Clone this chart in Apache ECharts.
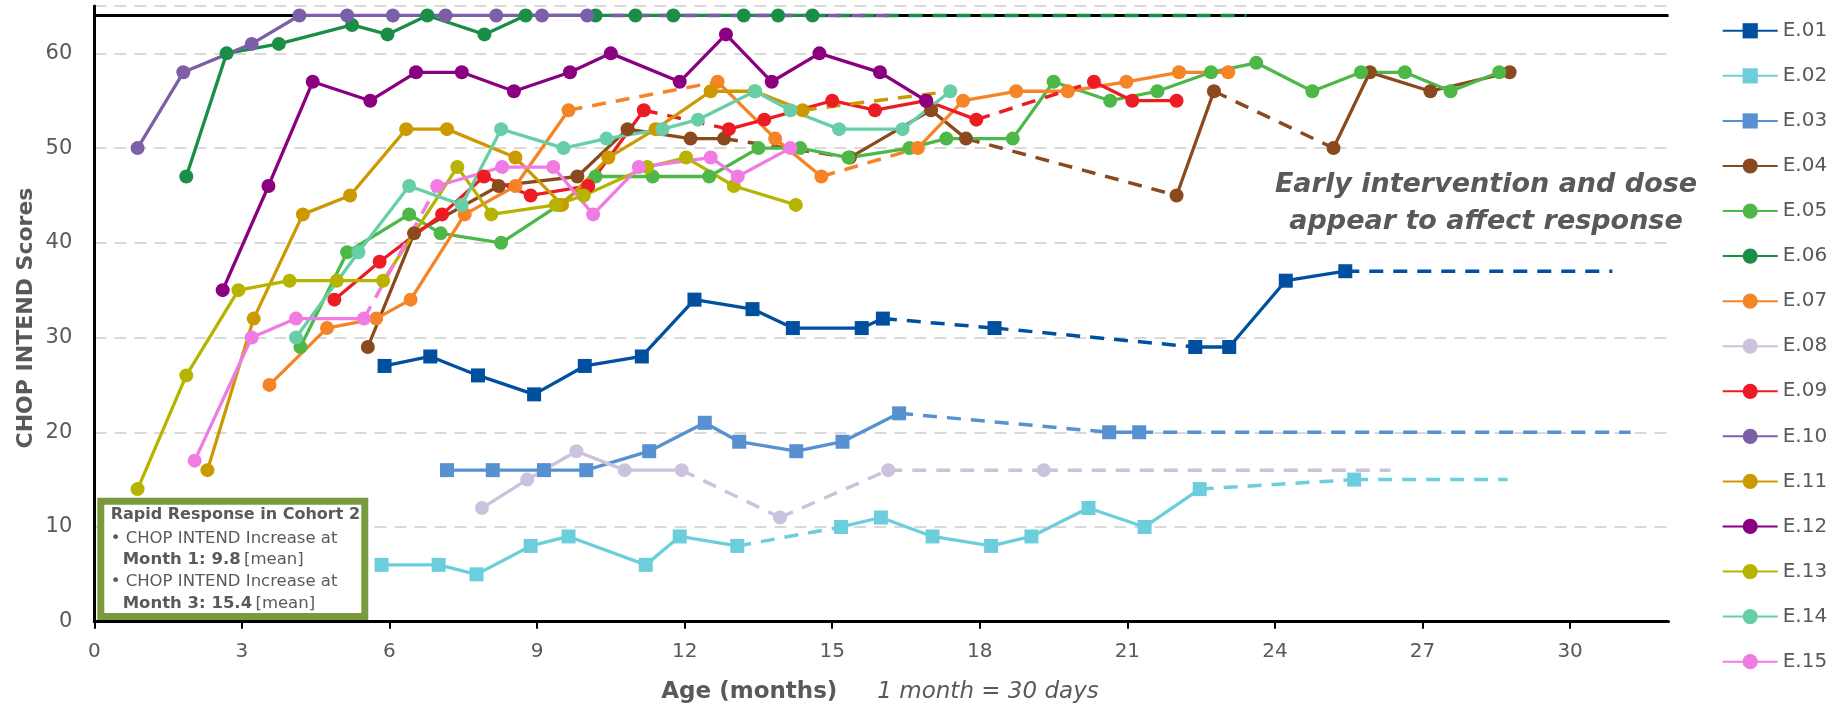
<!DOCTYPE html>
<html>
<head>
<meta charset="utf-8">
<title>CHOP INTEND Scores by Age</title>
<script src="https://cdn.jsdelivr.net/npm/echarts@6/dist/echarts.min.js"></script>
<style>
  html, body { margin: 0; padding: 0; background: #fff; }
  #chart { width: 1845px; height: 707px; }
</style>
</head>
<body>
<div id="chart"></div>
<script>
// each patient: runs of visits [age (months), score] joined by a solid line,
// consecutive runs are bridged by a dashed line, tail = dashed carry-forward end
const e01 = [
  [[5.9, 27], [6.83, 28], [7.8, 26], [8.94, 24], [9.97, 27], [11.13, 28], [12.2, 34], [13.38, 33], [14.2, 31], [15.6, 31], [16.03, 32]],
  [[18.3, 31]],
  [[22.38, 29], [23.07, 29], [24.22, 36], [25.43, 37]],
]
const e01Tail = [30.86, 37]
const e02 = [
  [[5.84, 6], [7.0, 6], [7.77, 5], [8.87, 8], [9.64, 9], [11.21, 6], [11.9, 9], [13.07, 8]],
  [[15.18, 10], [15.99, 11], [17.04, 9], [18.23, 8], [19.05, 9], [20.21, 12], [21.35, 10], [22.47, 14]],
  [[25.61, 15]],
]
const e02Tail = [28.73, 15]
const e03 = [
  [[7.17, 16], [8.1, 16], [9.14, 16], [10.0, 16], [11.28, 18], [12.41, 21], [13.11, 19], [14.27, 18], [15.21, 19], [16.36, 22]],
  [[20.63, 20], [21.24, 20]],
]
const e03Tail = [31.23, 20]
const e04 = [
  [[5.56, 29], [6.5, 41], [8.22, 46], [9.82, 47], [10.84, 52], [12.12, 51], [12.8, 51]],
  [[15.36, 49], [17.01, 54], [17.72, 51]],
  [[22.0, 45], [22.76, 56]],
  [[25.19, 50], [25.93, 58], [27.16, 56], [28.77, 58]],
]
const e05 = [
  [[4.19, 29], [5.14, 39], [6.4, 43], [7.04, 41], [8.27, 40], [9.45, 44], [10.19, 47], [11.35, 47], [12.5, 47], [13.5, 50], [14.35, 50], [15.33, 49], [16.57, 50], [17.32, 51], [18.67, 51], [19.5, 57], [20.65, 55], [21.61, 56], [22.7, 58], [23.62, 59], [24.76, 56], [25.75, 58], [26.64, 58], [27.57, 56], [28.56, 58]],
]
const e06 = [
  [[1.87, 47], [2.69, 60], [3.75, 61], [5.24, 63], [5.96, 62], [6.77, 64], [7.93, 62], [8.77, 64], [10.19, 64], [11.0, 64], [11.77, 64], [13.2, 64], [13.9, 64], [14.6, 64]],
]
const e06Tail = [23.42, 64]
const e07 = [
  [[3.56, 25], [4.73, 31], [5.73, 32], [6.43, 34], [7.53, 43], [8.56, 46], [9.64, 54]],
  [[12.67, 57], [13.84, 51], [14.78, 47]],
  [[16.74, 50], [17.66, 55], [18.74, 56], [19.79, 56], [20.98, 57], [22.05, 58], [23.05, 58]],
]
const e08 = [
  [[7.88, 12], [8.8, 15], [9.8, 18], [10.78, 16], [11.94, 16]],
  [[13.94, 11]],
  [[16.14, 16]],
  [[19.3, 16]],
]
const e08Tail = [26.35, 16]
const e09 = [
  [[4.88, 34], [5.8, 38], [7.07, 43], [7.92, 47], [8.87, 45], [10.04, 46], [11.17, 54]],
  [[12.9, 52], [13.62, 53], [15.0, 55], [15.87, 54], [16.91, 55], [17.93, 53]],
  [[20.32, 57], [21.1, 55], [22.0, 55]],
]
const e10 = [
  [[0.88, 50], [1.81, 58], [3.2, 61], [4.17, 64], [5.14, 64], [6.07, 64], [7.14, 64], [8.17, 64], [9.1, 64], [10.02, 64]],
]
const e10Tail = [16.33, 64]
const e11 = [
  [[2.3, 16], [3.24, 32], [4.24, 43], [5.2, 45], [6.34, 52], [7.17, 52], [8.56, 49], [9.51, 44], [10.45, 49], [11.41, 52], [12.53, 56], [13.43, 56], [14.4, 54]],
]
const e11Tail = [17.4, 56]
const e12 = [
  [[2.61, 35], [3.54, 46], [4.44, 57], [5.61, 55], [6.54, 58], [7.47, 58], [8.53, 56], [9.67, 58], [10.5, 60], [11.9, 57], [12.84, 62], [13.77, 57], [14.74, 60], [15.97, 58], [16.91, 55]],
]
const e13 = [
  [[0.88, 14], [1.87, 26], [2.93, 35], [3.97, 36], [4.93, 36], [5.87, 36], [7.38, 48], [8.07, 43], [9.38, 44], [9.95, 45], [11.24, 48], [12.03, 49], [13.0, 46], [14.26, 44]],
]
const e14 = [
  [[4.1, 30], [5.37, 39], [6.4, 46], [7.47, 44], [8.27, 52], [9.54, 50], [10.41, 51], [11.55, 52], [12.27, 53], [13.43, 56], [14.15, 54], [15.14, 52], [16.43, 52], [17.4, 56]],
]
const e15 = [
  [[2.04, 17], [3.2, 30], [4.1, 32], [5.48, 32]],
  [[6.97, 46], [8.29, 48], [9.33, 48], [10.14, 43], [11.07, 48], [12.53, 49], [13.08, 47], [14.15, 50]],
]

const names = ['E.01', 'E.02', 'E.03', 'E.04', 'E.05', 'E.06', 'E.07', 'E.08', 'E.09', 'E.10', 'E.11', 'E.12', 'E.13', 'E.14', 'E.15']
const xTicks = [0, 3, 6, 9, 12, 15, 18, 21, 24, 27, 30]
const yTicks = [0, 10, 20, 30, 40, 50, 60]
const maxScore = 64

const FONT = 'DejaVu Sans'
const GREY = '#595959'

const patients = [
  { runs: e01, tail: e01Tail, color: '#00509F', symbol: 'rect' },
  { runs: e02, tail: e02Tail, color: '#6CCEDC', symbol: 'rect' },
  { runs: e03, tail: e03Tail, color: '#5791CF', symbol: 'rect' },
  { runs: e04, tail: null, color: '#8A4A1E', symbol: 'circle' },
  { runs: e05, tail: null, color: '#4DB848', symbol: 'circle' },
  { runs: e06, tail: e06Tail, color: '#1A8D46', symbol: 'circle' },
  { runs: e07, tail: null, color: '#F58426', symbol: 'circle' },
  { runs: e08, tail: e08Tail, color: '#CBC2DD', symbol: 'circle' },
  { runs: e09, tail: null, color: '#ED1C24', symbol: 'circle' },
  { runs: e10, tail: e10Tail, color: '#7D5FA8', symbol: 'circle' },
  { runs: e11, tail: e11Tail, color: '#CC9A00', symbol: 'circle' },
  { runs: e12, tail: null, color: '#8A0081', symbol: 'circle' },
  { runs: e13, tail: null, color: '#B6B400', symbol: 'circle' },
  { runs: e14, tail: null, color: '#66CFA8', symbol: 'circle' },
  { runs: e15, tail: null, color: '#F07CE3', symbol: 'circle' },
]

// solid runs, broken with '-' between them
function solidData(runs) {
  const out = []
  runs.forEach((run, i) => {
    if (i) out.push([runs[i - 1][runs[i - 1].length - 1][0], '-'])
    out.push(...run)
  })
  return out
}

// dashed bridges between runs plus the trailing carry-forward
function dashedData(runs, tail) {
  const out = []
  for (let i = 1; i < runs.length; i++) {
    if (out.length) out.push([runs[i - 1][runs[i - 1].length - 1][0], '-'])
    out.push(runs[i - 1][runs[i - 1].length - 1], runs[i][0])
  }
  if (tail) {
    const last = runs[runs.length - 1]
    if (out.length) out.push([last[last.length - 1][0], '-'])
    out.push(last[last.length - 1], tail)
  }
  return out
}

const series = [
  {
    name: 'max',
    type: 'line',
    data: [[0, maxScore], [32, maxScore]],
    symbol: 'none',
    lineStyle: { color: '#000', width: 3 },
    z: 1,
  },
]
patients.forEach((p, i) => {
  series.push({
    name: names[i],
    type: 'line',
    data: solidData(p.runs),
    symbol: p.symbol,
    symbolSize: 14,
    showSymbol: true,
    connectNulls: false,
    color: p.color,
    lineStyle: { width: 3.3, color: p.color },
    itemStyle: { color: p.color },
    z: 3,
  })
  const dashed = dashedData(p.runs, p.tail)
  if (dashed.length) {
    series.push({
      name: names[i],
      type: 'line',
      data: dashed,
      symbol: 'none',
      connectNulls: false,
      color: p.color,
      lineStyle: { width: 3.5, color: p.color, type: [14, 10] },
      z: 3,
    })
  }
})

const chart = echarts.init(document.getElementById('chart'))
chart.setOption({
  animation: false,
  backgroundColor: '#fff',
  grid: { left: 94.3, right: 176.5, top: 6, bottom: 85.3 },
  xAxis: {
    type: 'value',
    min: 0,
    max: 32,
    interval: 3,
    axisLine: { lineStyle: { color: '#000', width: 3 } },
    axisTick: { length: 7, lineStyle: { color: '#000', width: 2 }, customValues: xTicks },
    axisLabel: { customValues: xTicks, margin: 20, fontFamily: FONT, fontSize: 20, color: GREY },
    splitLine: { show: false },
  },
  yAxis: {
    type: 'value',
    min: 0,
    max: 65,
    interval: 10,
    axisLine: { show: true, lineStyle: { color: '#000', width: 3 } },
    axisTick: { show: false },
    axisLabel: { customValues: yTicks, margin: 22, fontFamily: FONT, fontSize: 21, color: GREY },
    splitLine: { lineStyle: { color: '#D9D9D9', width: 2, type: [12, 8] } },
  },
  legend: {
    data: names,
    orient: 'vertical',
    left: 1721.7,
    top: 20.3,
    padding: 0,
    itemWidth: 55,
    itemHeight: 19,
    itemGap: 24.06,
    textStyle: { fontFamily: FONT, fontSize: 20, color: GREY, lineHeight: 21 },
  },
  graphic: [
    {
      type: 'text',
      x: 26,
      y: 318,
      rotation: Math.PI / 2,
      style: {
        text: 'CHOP INTEND Scores',
        font: 'bold 22px "DejaVu Sans"',
        fill: GREY,
        textAlign: 'center',
        textVerticalAlign: 'middle',
      },
    },
    {
      type: 'text',
      x: 880,
      y: 692,
      style: {
        text: '{b|Age (months)}{i|1 month = 30 days}',
        textAlign: 'center',
        textVerticalAlign: 'middle',
        rich: {
          b: { fontFamily: FONT, fontSize: 23, fontWeight: 'bold', fill: GREY },
          i: { fontFamily: FONT, fontSize: 23, fontStyle: 'italic', fill: GREY, padding: [0, 0, 0, 40] },
        },
      },
    },
    {
      type: 'text',
      x: 1486,
      y: 203.5,
      z: 10,
      style: {
        text: 'Early intervention and dose\nappear to affect response',
        font: 'italic bold 27px "DejaVu Sans"',
        fill: GREY,
        lineHeight: 37.7,
        textAlign: 'center',
        textVerticalAlign: 'middle',
      },
    },
    {
      type: 'rect',
      z: 10,
      shape: { x: 100.8, y: 501.2, width: 264, height: 115.3 },
      style: { fill: '#fff', stroke: '#7A9A3E', lineWidth: 7 },
    },
    {
      type: 'text', x: 110.7, y: 515, z: 11,
      style: { text: 'Rapid Response in Cohort 2', font: 'bold 16px "DejaVu Sans"', fill: GREY, textVerticalAlign: 'middle' },
    },
    {
      type: 'text', x: 110.7, y: 538.3, z: 11,
      style: { text: '\u2022 CHOP INTEND Increase at', font: '16.5px "DejaVu Sans"', fill: GREY, textVerticalAlign: 'middle' },
    },
    {
      type: 'text', x: 122.7, y: 560, z: 11,
      style: {
        text: '{b|Month 1: 9.8} {r|[mean]}',
        textVerticalAlign: 'middle',
        rich: {
          b: { fontFamily: FONT, fontSize: 16.5, fontWeight: 'bold', fill: GREY },
          r: { fontFamily: FONT, fontSize: 16.5, fill: GREY },
        },
      },
    },
    {
      type: 'text', x: 110.7, y: 581.7, z: 11,
      style: { text: '\u2022 CHOP INTEND Increase at', font: '16.5px "DejaVu Sans"', fill: GREY, textVerticalAlign: 'middle' },
    },
    {
      type: 'text', x: 122.7, y: 604, z: 11,
      style: {
        text: '{b|Month 3: 15.4} {r|[mean]}',
        textVerticalAlign: 'middle',
        rich: {
          b: { fontFamily: FONT, fontSize: 16.5, fontWeight: 'bold', fill: GREY },
          r: { fontFamily: FONT, fontSize: 16.5, fill: GREY },
        },
      },
    },
  ],
  series,
})
</script>
</body>
</html>
